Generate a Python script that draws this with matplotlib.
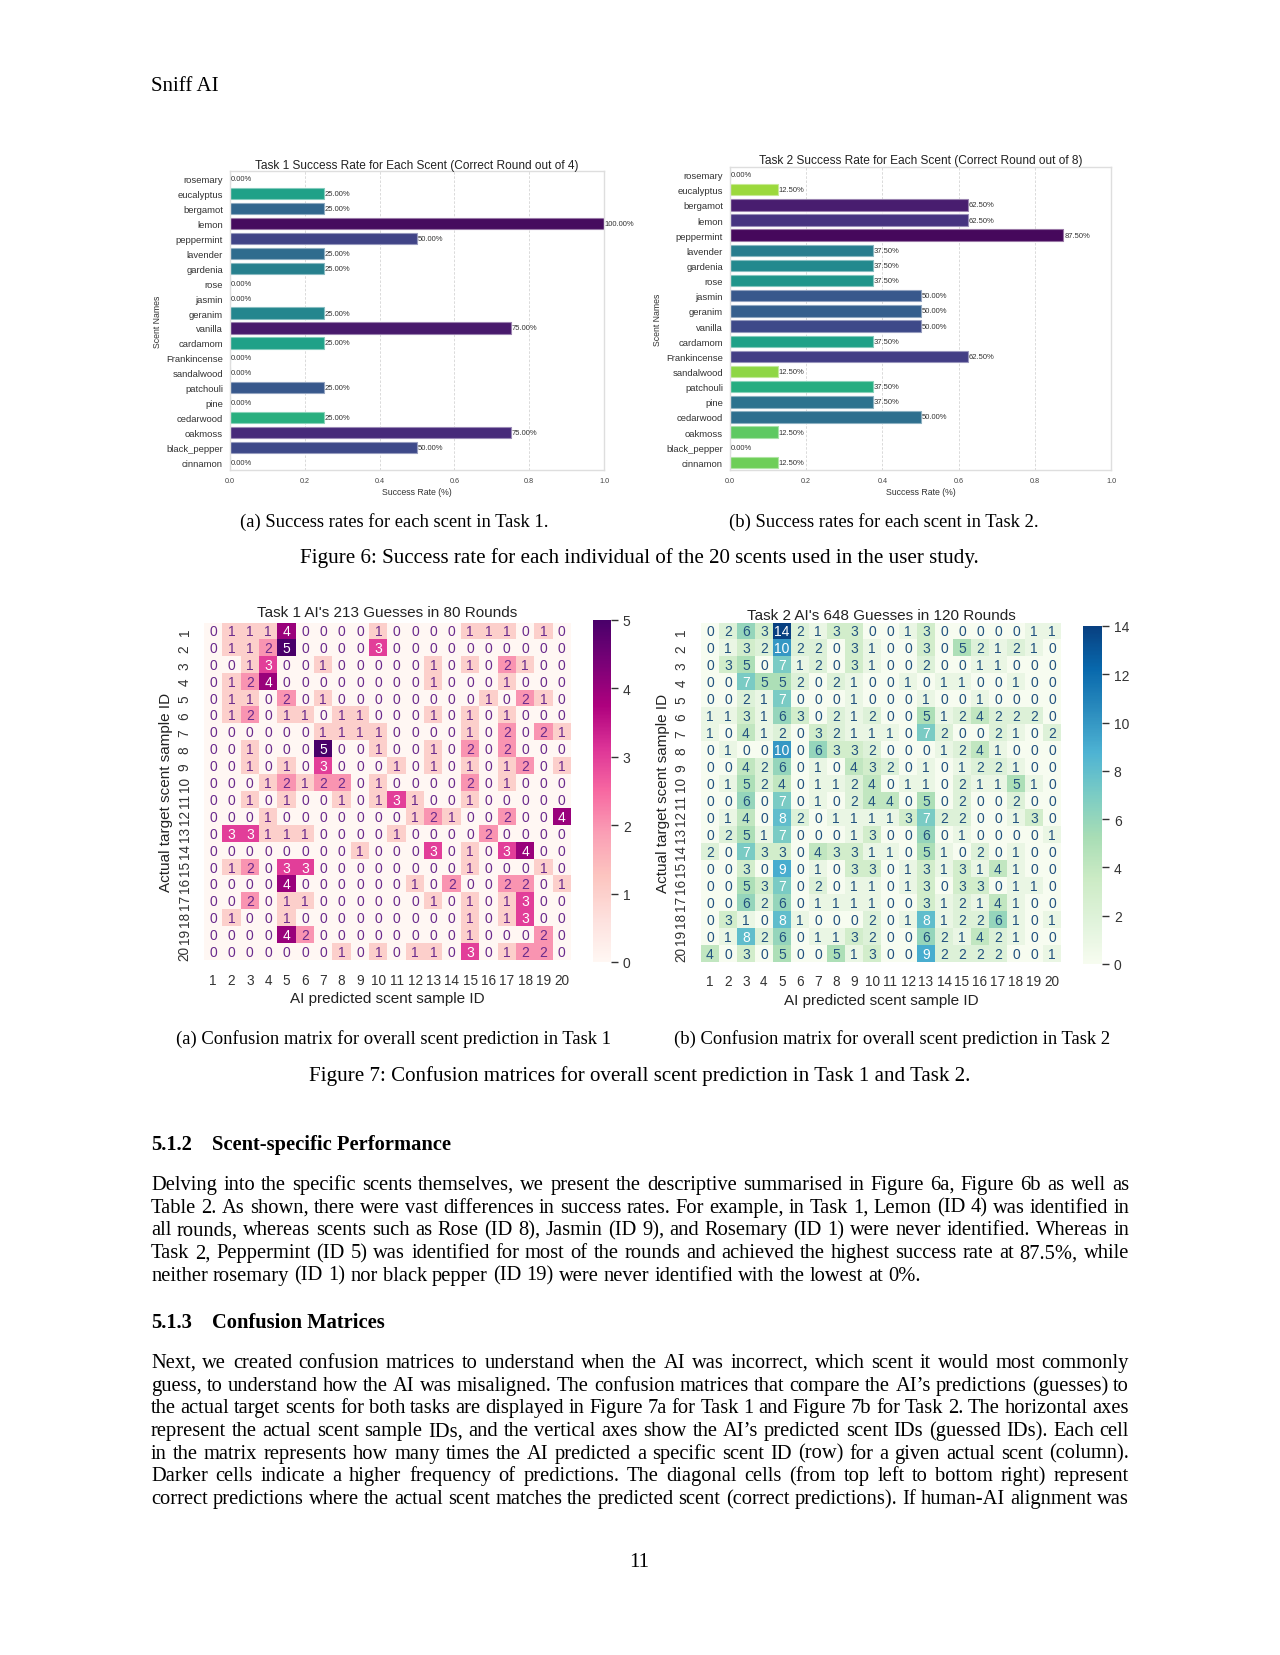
import numpy as np
import matplotlib
matplotlib.use('Agg')
import matplotlib.pyplot as plt
from matplotlib import colors as mcolors

# ---------------- data ----------------
scents = ['rosemary', 'eucalyptus', 'bergamot', 'lemon', 'peppermint', 'lavender',
          'gardenia', 'rose', 'jasmin', 'geranim', 'vanilla', 'cardamom',
          'Frankincense', 'sandalwood', 'patchouli', 'pine', 'cedarwood',
          'oakmoss', 'black_pepper', 'cinnamon']
task1_rate = [0.0, 0.25, 0.25, 1.0, 0.5, 0.25, 0.25, 0.0, 0.0, 0.25,
              0.75, 0.25, 0.0, 0.0, 0.25, 0.0, 0.25, 0.75, 0.5, 0.0]
task2_rate = [0.0, 0.125, 0.625, 0.625, 0.875, 0.375, 0.375, 0.375, 0.5, 0.5,
              0.5, 0.375, 0.625, 0.125, 0.375, 0.375, 0.5, 0.125, 0.0, 0.125]

ids = [str(i) for i in range(1, 21)]

cm_task1 = [
    [0,1,1,1,4,0,0,0,0,1,0,0,0,0,1,1,1,0,1,0],
    [0,1,1,2,5,0,0,0,0,3,0,0,0,0,0,0,0,0,0,0],
    [0,0,1,3,0,0,1,0,0,0,0,0,1,0,1,0,2,1,0,0],
    [0,1,2,4,0,0,0,0,0,0,0,0,1,0,0,0,1,0,0,0],
    [0,1,1,0,2,0,1,0,0,0,0,0,0,0,0,1,0,2,1,0],
    [0,1,2,0,1,1,0,1,1,0,0,0,1,0,1,0,1,0,0,0],
    [0,0,0,0,0,0,1,1,1,1,0,0,0,0,1,0,2,0,2,1],
    [0,0,1,0,0,0,5,0,0,1,0,0,1,0,2,0,2,0,0,0],
    [0,0,1,0,1,0,3,0,0,0,1,0,1,0,1,0,1,2,0,1],
    [0,0,0,1,2,1,2,2,0,1,0,0,0,0,2,0,1,0,0,0],
    [0,0,1,0,1,0,0,1,0,1,3,1,0,0,1,0,0,0,0,0],
    [0,0,0,1,0,0,0,0,0,0,0,1,2,1,0,0,2,0,0,4],
    [0,3,3,1,1,1,0,0,0,0,1,0,0,0,0,2,0,0,0,0],
    [0,0,0,0,0,0,0,0,1,0,0,0,3,0,1,0,3,4,0,0],
    [0,1,2,0,3,3,0,0,0,0,0,0,0,0,1,0,0,0,1,0],
    [0,0,0,0,4,0,0,0,0,0,0,1,0,2,0,0,2,2,0,1],
    [0,0,2,0,1,1,0,0,0,0,0,0,1,0,1,0,1,3,0,0],
    [0,1,0,0,1,0,0,0,0,0,0,0,0,0,1,0,1,3,0,0],
    [0,0,0,0,4,2,0,0,0,0,0,0,0,0,1,0,0,0,2,0],
    [0,0,0,0,0,0,0,1,0,1,0,1,1,0,3,0,1,2,2,0],
]

cm_task2 = [
    [0,2,6,3,14,2,1,3,3,0,0,1,3,0,0,0,0,0,1,1],
    [0,1,3,2,10,2,2,0,3,1,0,0,3,0,5,2,1,2,1,0],
    [0,3,5,0,7,1,2,0,3,1,0,0,2,0,0,1,1,0,0,0],
    [0,0,7,5,5,2,0,2,1,0,0,1,0,1,1,0,0,1,0,0],
    [0,0,2,1,7,0,0,0,1,0,0,0,1,0,0,1,0,0,0,0],
    [1,1,3,1,6,3,0,2,1,2,0,0,5,1,2,4,2,2,2,0],
    [1,0,4,1,2,0,3,2,1,1,1,0,7,2,0,0,2,1,0,2],
    [0,1,0,0,10,0,6,3,3,2,0,0,0,1,2,4,1,0,0,0],
    [0,0,4,2,6,0,1,0,4,3,2,0,1,0,1,2,2,1,0,0],
    [0,1,5,2,4,0,1,1,2,4,0,1,1,0,2,1,1,5,1,0],
    [0,0,6,0,7,0,1,0,2,4,4,0,5,0,2,0,0,2,0,0],
    [0,1,4,0,8,2,0,1,1,1,1,3,7,2,2,0,0,1,3,0],
    [0,2,5,1,7,0,0,0,1,3,0,0,6,0,1,0,0,0,0,1],
    [2,0,7,3,3,0,4,3,3,1,1,0,5,1,0,2,0,1,0,0],
    [0,0,3,0,9,0,1,0,3,3,0,1,3,1,3,1,4,1,0,0],
    [0,0,5,3,7,0,2,0,1,1,0,1,3,0,3,3,0,1,1,0],
    [0,0,6,2,6,0,1,1,1,1,0,0,3,1,2,1,4,1,0,0],
    [0,3,1,0,8,1,0,0,0,2,0,1,8,1,2,2,6,1,0,1],
    [0,1,8,2,6,0,1,1,3,2,0,0,6,2,1,4,2,1,0,0],
    [4,0,3,0,5,0,0,5,1,3,0,0,9,2,2,2,2,0,0,1],
]

# bar shades (position in viridis), styling only
t1_shade = [0.5, 0.57, 0.33, 0.03, 0.20, 0.35, 0.43, 0.5, 0.5, 0.46,
            0.07, 0.57, 0.5, 0.5, 0.27, 0.5, 0.63, 0.12, 0.22, 0.5]
t2_shade = [0.5, 0.85, 0.08, 0.15, 0.02, 0.42, 0.47, 0.52, 0.27, 0.30,
            0.22, 0.57, 0.18, 0.83, 0.62, 0.38, 0.36, 0.75, 0.5, 0.78]

# ---------------- figure ----------------
W, H = 1280, 1656
fig = plt.figure(figsize=(12.8, 16.56), dpi=100)
fig.patch.set_facecolor('white')
SANS = ['Liberation Sans', 'DejaVu Sans']
SERIF = ['Liberation Serif', 'DejaVu Serif']
plt.rcParams['font.family'] = SANS


def rect(l, t, r, b):
    return [l / W, 1 - b / H, (r - l) / W, (b - t) / H]


def bar_chart(r, rates, shades, title, title_pad):
    ax = fig.add_axes(r)
    vir = plt.get_cmap('viridis')
    cols = [vir(s) for s in shades]
    edge = [tuple(0.55 * np.array(c[:3]) + 0.45) for c in cols]
    y = np.arange(len(scents))
    ax.barh(y, rates, height=0.75, color=cols, edgecolor=edge, linewidth=0.8, zorder=2)
    ax.set_ylim(len(scents) - 0.5, -0.5)
    ax.set_xlim(0, 1.0)
    ax.set_yticks(y)
    ax.set_yticklabels(scents, fontsize=6.8, color='#333333')
    ax.set_xticks(np.arange(0, 1.01, 0.2))
    ax.set_xticklabels(['%.1f' % v for v in np.arange(0, 1.01, 0.2)], fontsize=5.2, color='#444444')
    ax.tick_params(axis='y', length=0, pad=5)
    ax.tick_params(axis='x', length=0, pad=5)
    ax.xaxis.grid(True, linestyle=(0, (3, 2)), color='#d4d4d4', linewidth=0.6, zorder=0)
    ax.set_axisbelow(True)
    for s in ax.spines.values():
        s.set_color('#dedede')
        s.set_linewidth(1.0)
    for i, v in enumerate(rates):
        ax.text(v + 0.002, i, '%.2f%%' % (v * 100), va='center', ha='left',
                fontsize=5.5, color='#333333')
    ax.set_title(title, fontsize=8.6, pad=title_pad, color='#222222')
    ax.set_xlabel('Success Rate (%)', fontsize=6.3, color='#333333', labelpad=2)
    ax.set_ylabel('Scent Names', fontsize=6.3, color='#333333', labelpad=3)
    return ax


bar_chart(rect(230, 172, 604, 471), task1_rate, t1_shade,
          'Task 1 Success Rate for Each Scent (Correct Round out of 4)', 2.5)
bar_chart(rect(730, 168, 1111, 471), task2_rate, t2_shade,
          'Task 2 Success Rate for Each Scent (Correct Round out of 8)', 3)


def heat(r, cr, data, cmap, vmax, ticks, txtcol, white_from, title, tpad):
    M = np.array(data)
    ax = fig.add_axes(r)
    im = ax.imshow(M, cmap=cmap, vmin=0, vmax=vmax, aspect='auto',
                   interpolation='nearest')
    n = M.shape[0]
    for i in range(n):
        for j in range(M.shape[1]):
            v = M[i, j]
            ax.text(j, i, str(v), ha='center', va='center', fontsize=10,
                    color='white' if v >= white_from else txtcol)
    ax.set_xticks(range(n))
    ax.set_xticklabels(ids, fontsize=9.8, color='#333333')
    ax.set_yticks(range(n))
    ax.set_yticklabels(ids, fontsize=9.8, color='#333333', rotation=90, va='center')
    ax.tick_params(length=0, pad=9)
    for s in ax.spines.values():
        s.set_visible(False)
    ax.set_xlabel('AI predicted scent sample ID', fontsize=11, color='#222222', labelpad=3)
    ax.set_ylabel('Actual target scent sample ID', fontsize=11, color='#222222', labelpad=3)
    ax.set_title(title, fontsize=11, pad=tpad, color='#222222')
    cax = fig.add_axes(cr)
    cb = fig.colorbar(im, cax=cax)
    cb.outline.set_visible(False)
    cb.set_ticks(ticks)
    cb.ax.tick_params(labelsize=10, length=5, width=1, colors='#333333')
    return ax


heat(rect(204, 623.5, 571, 961.5), rect(593, 621, 611, 963), cm_task1, 'RdPu', 5,
     [0, 1, 2, 3, 4, 5], '#6a2a8c', 3, "Task 1 AI's 213 Guesses in 80 Rounds", 4.5)
heat(rect(701, 623.5, 1061, 963), rect(1083, 627, 1102, 965), cm_task2, 'GnBu', 14,
     [0, 2, 4, 6, 8, 10, 12, 14], '#22527f', 7, "Task 2 AI's 648 Guesses in 120 Rounds", 2.5)

# ---------------- page text ----------------
renderer = fig.canvas.get_renderer()
X0, X1 = 151, 1129
FS = 14.8
CAP = 15.1
SUB = 13.4


def ptext(x, y, s, ha='left', **kw):
    kw.setdefault('fontsize', FS)
    kw.setdefault('family', SERIF)
    return fig.text(x / W, 1 - y / H, s, ha=ha, va='baseline', color='black', **kw)


def line(y, s, justify=True, **kw):
    words = s.split(' ')
    objs = [ptext(0, y, w, **kw) for w in words]
    widths = [o.get_window_extent(renderer).width for o in objs]
    if justify and len(words) > 1:
        gap = (X1 - X0 - sum(widths)) / (len(words) - 1)
    else:
        a = ptext(0, y, 'a a', **kw)
        b = ptext(0, y, 'aa', **kw)
        gap = a.get_window_extent(renderer).width - b.get_window_extent(renderer).width
        a.remove(); b.remove()
    x = X0
    for o, w in zip(objs, widths):
        o.set_x(x / W)
        x += w + gap


ptext(151, 91, 'Sniff AI', fontsize=15)

ptext(394, 527, '(a) Success rates for each scent in Task 1.', ha='center', fontsize=SUB)
ptext(884, 527, '(b) Success rates for each scent in Task 2.', ha='center', fontsize=SUB)
ptext(639, 563, 'Figure 6: Success rate for each individual of the 20 scents used in the user study.', ha='center', fontsize=CAP)

ptext(394, 1044, '(a) Confusion matrix for overall scent prediction in Task 1', ha='center', fontsize=SUB)
ptext(892, 1044, '(b) Confusion matrix for overall scent prediction in Task 2', ha='center', fontsize=SUB)
ptext(640, 1081, 'Figure 7: Confusion matrices for overall scent prediction in Task 1 and Task 2.', ha='center', fontsize=CAP)

ptext(151, 1150, '5.1.2', weight='bold')
ptext(212, 1150, 'Scent-specific Performance', weight='bold')

para1 = [
    'Delving into the specific scents themselves, we present the descriptive summarised in Figure 6a, Figure 6b as well as',
    'Table 2. As shown, there were vast differences in success rates. For example, in Task 1, Lemon (ID 4) was identified in',
    'all rounds, whereas scents such as Rose (ID 8), Jasmin (ID 9), and Rosemary (ID 1) were never identified. Whereas in',
    'Task 2, Peppermint (ID 5) was identified for most of the rounds and achieved the highest success rate at 87.5%, while',
    'neither rosemary (ID 1) nor black pepper (ID 19) were never identified with the lowest at 0%.',
]
for k, s in enumerate(para1):
    line(1190 + k * 22.7, s, justify=(k < len(para1) - 1))

ptext(151, 1328, '5.1.3', weight='bold')
ptext(212, 1328, 'Confusion Matrices', weight='bold')

para2 = [
    'Next, we created confusion matrices to understand when the AI was incorrect, which scent it would most commonly',
    'guess, to understand how the AI was misaligned. The confusion matrices that compare the AI\u2019s predictions (guesses) to',
    'the actual target scents for both tasks are displayed in Figure 7a for Task 1 and Figure 7b for Task 2. The horizontal axes',
    'represent the actual scent sample IDs, and the vertical axes show the AI\u2019s predicted scent IDs (guessed IDs). Each cell',
    'in the matrix represents how many times the AI predicted a specific scent ID (row) for a given actual scent (column).',
    'Darker cells indicate a higher frequency of predictions. The diagonal cells (from top left to bottom right) represent',
    'correct predictions where the actual scent matches the predicted scent (correct predictions). If human-AI alignment was',
]
for k, s in enumerate(para2):
    line(1368 + k * 22.7, s, justify=True)

ptext(639, 1567, '11', ha='center', fontsize=15)

fig.savefig('out.png', dpi=100, facecolor='white')
